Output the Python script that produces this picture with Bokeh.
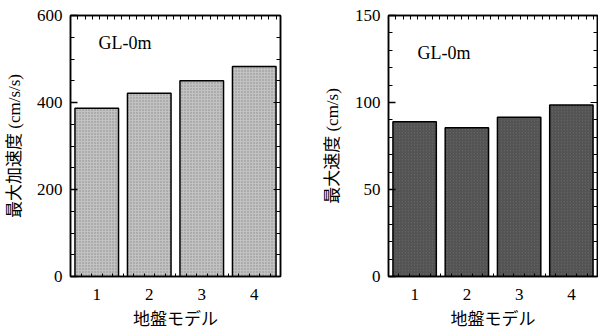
from bokeh.plotting import figure
from bokeh.layouts import row
from bokeh.models import ColumnDataSource, LinearAxis, FixedTicker, Range1d, Label
from bokeh.embed import file_html
from bokeh.resources import INLINE
import numpy as np

# ---- data ----
models = [1, 2, 3, 4]
model_tick_labels = ["1", "2", "3", "4"]
max_acc = [387, 421, 450, 483]      # cm/s/s
max_vel = [89, 85.5, 91.5, 98.5]    # cm/s
location = "GL-0m"
acc_title = "最大加速度 (cm/s/s)"
vel_title = "最大速度 (cm/s)"
x_title = "地盤モデル"
acc_major = [0, 200, 400, 600]
vel_major = [0, 50, 100, 150]

SERIF = "'Liberation Serif', 'Noto Sans CJK JP'"


def make(values, ymax, ymajor, ystep, fill, ylabel, width, bl, br, bt, bb,
         lab_x, lab_y, hatch):
    p = figure(width=width, height=331, x_range=Range1d(0.5, 4.5),
               y_range=Range1d(0, ymax), output_backend="svg",
               toolbar_location=None, min_border_left=bl, min_border_right=br,
               min_border_top=bt, min_border_bottom=bb)
    p.grid.visible = False
    p.outline_line_color = "black"
    p.outline_line_width = 1.5
    p.background_fill_color = "white"

    src = ColumnDataSource(dict(x=models, top=values))
    p.vbar(x="x", top="top", width=0.83, bottom=0, source=src,
           fill_color=fill, line_color="black", line_width=1.5,
           hatch_pattern=hatch, hatch_color="#222222", hatch_alpha=0.35,
           hatch_scale=3, hatch_weight=1)

    yminor = list(np.arange(0, ymax + 1e-9, ystep))
    xmin = list(np.arange(0.5, 4.5 + 1e-9, 0.2))
    xtop = list(np.arange(0.5, 4.5 + 1e-9, 0.14))

    # left axis
    ya = p.yaxis[0]
    ya.ticker = FixedTicker(ticks=ymajor, minor_ticks=yminor)
    ya.major_tick_in = 7
    ya.major_tick_out = 0
    ya.minor_tick_in = 4
    ya.minor_tick_out = 0
    ya.axis_line_width = 1.5
    ya.major_tick_line_width = 1.3
    ya.major_label_text_font = "Liberation Serif"
    ya.major_label_text_font_size = "17px"
    ya.major_label_text_color = "black"
    ya.major_label_standoff = 8
    ya.axis_label = ylabel
    ya.axis_label_text_font = SERIF
    ya.axis_label_text_font_size = "17px"
    ya.axis_label_text_font_style = "normal"
    ya.axis_label_text_color = "black"
    ya.axis_label_standoff = 10

    # right axis (ticks only, empty labels)
    ra = LinearAxis(ticker=FixedTicker(ticks=ymajor, minor_ticks=yminor),
                    major_tick_in=7, major_tick_out=0, minor_tick_in=4,
                    minor_tick_out=0,
                    major_label_overrides={t: "" for t in ymajor},
                    major_label_standoff=0, axis_line_width=1.5)
    p.add_layout(ra, "right")

    # bottom axis
    xa = p.xaxis[0]
    xa.ticker = FixedTicker(ticks=models, minor_ticks=xmin)
    xa.major_label_overrides = {m: t for m, t in zip(models, model_tick_labels)}
    xa.major_tick_in = 0
    xa.major_tick_out = 0
    xa.minor_tick_in = 3
    xa.minor_tick_out = 0
    xa.axis_line_width = 1.5
    xa.major_label_text_font = "Liberation Serif"
    xa.major_label_text_font_size = "17px"
    xa.major_label_text_color = "black"
    xa.major_label_standoff = 12
    xa.axis_label = x_title
    xa.axis_label_text_font = SERIF
    xa.axis_label_text_font_size = "17px"
    xa.axis_label_text_font_style = "normal"
    xa.axis_label_text_color = "black"
    xa.axis_label_standoff = 7

    # top axis (minor ticks only)
    ta = LinearAxis(ticker=FixedTicker(ticks=[], minor_ticks=xtop),
                    minor_tick_in=4, minor_tick_out=0, major_tick_in=0,
                    major_tick_out=0, major_label_standoff=0,
                    axis_line_width=1.5)
    p.add_layout(ta, "above")

    p.add_layout(Label(x=lab_x, y=lab_y, x_units="screen", y_units="screen",
                       text=location, text_font="Liberation Serif",
                       text_font_size="18px", text_baseline="middle",
                       text_color="black"))
    return p


p1 = make(max_acc, 600, acc_major, 50, "#c2c2c2", acc_title,
          300, 70, 20, 15, 54, 28, 234, "dot")
p2 = make(max_vel, 150, vel_major, 10, "#626262", vel_title,
          298, 88, 1, 13, 55, 29, 224, "right_diagonal_line")

layout = row(p1, p2)
open("out.html", "w").write(file_html(layout, INLINE))
